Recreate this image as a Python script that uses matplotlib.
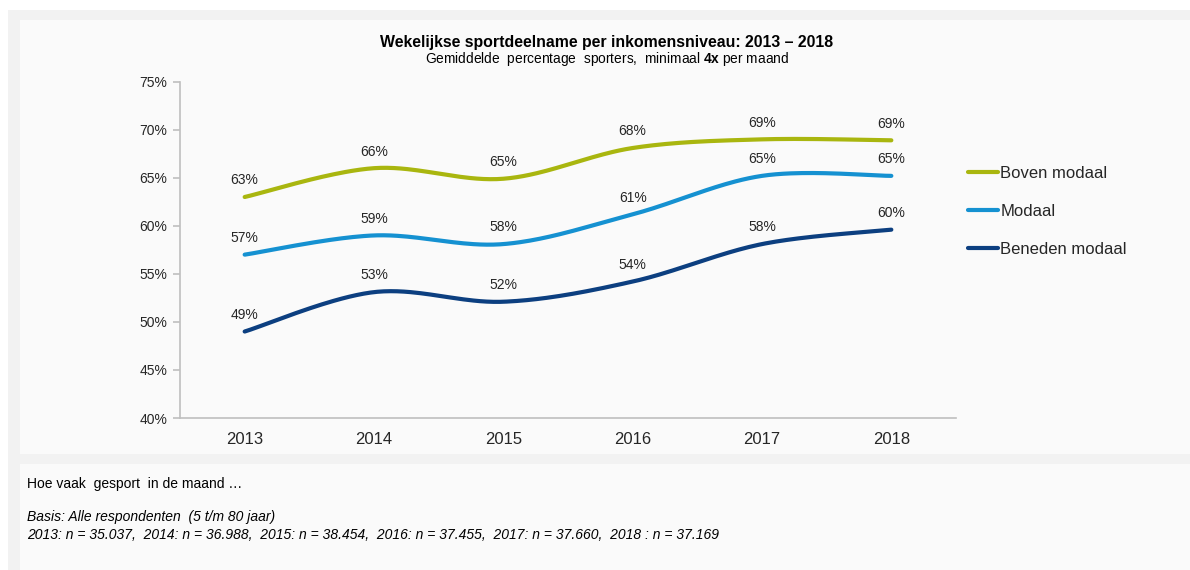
import numpy as np
import matplotlib.pyplot as plt
from matplotlib.patches import Rectangle

plt.rcParams['font.family'] = ['Liberation Sans', 'DejaVu Sans']
plt.rcParams['mathtext.fontset'] = 'custom'
plt.rcParams['mathtext.rm'] = 'Liberation Sans'
plt.rcParams['mathtext.bf'] = 'Liberation Sans:bold'

# Data
jaren = ['2013', '2014', '2015', '2016', '2017', '2018']
boven_modaal = [63.0, 66.0, 64.9, 68.1, 69.0, 68.9]
modaal = [57.0, 59.0, 58.1, 61.2, 65.2, 65.2]
beneden_modaal = [49.0, 53.1, 52.1, 54.2, 58.1, 59.6]

reeksen = ['Boven modaal', 'Modaal', 'Beneden modaal']
kleuren = ['#A9B60F', '#1591D1', '#0C3F80']


def glad(y, n=40):
    # Excel-achtige afgevlakte lijn (Bezier door de punten)
    y = np.asarray(y, dtype=float)
    x = np.arange(len(y), dtype=float)
    px = np.concatenate([[x[0]], x, [x[-1]]])
    py = np.concatenate([[y[0]], y, [y[-1]]])
    xs, ys = [], []
    t = np.linspace(0, 1, n)
    for i in range(len(y) - 1):
        p0 = np.array([px[i + 1], py[i + 1]])
        p3 = np.array([px[i + 2], py[i + 2]])
        c1 = p0 + (np.array([px[i + 2], py[i + 2]]) - np.array([px[i], py[i]])) / 6
        c2 = p3 - (np.array([px[i + 3], py[i + 3]]) - np.array([px[i + 1], py[i + 1]])) / 6
        b = ((1 - t) ** 3)[:, None] * p0 + (3 * (1 - t) ** 2 * t)[:, None] * c1 \
            + (3 * (1 - t) * t ** 2)[:, None] * c2 + (t ** 3)[:, None] * p3
        xs.append(b[:, 0])
        ys.append(b[:, 1])
    return np.concatenate(xs), np.concatenate(ys)


W, H = 1190, 570
fig = plt.figure(figsize=(W / 100, H / 100), dpi=100)
fig.patch.set_facecolor('white')

# Achtergrondvlakken
fig.add_artist(Rectangle((8 / W, 0), (W - 8) / W, (H - 10) / H, transform=fig.transFigure,
                         facecolor='#F2F2F2', edgecolor='none', zorder=-10))
fig.add_artist(Rectangle((20 / W, 1 - 454 / H), (W - 20) / W, 434 / H, transform=fig.transFigure,
                         facecolor='#FAFAFA', edgecolor='none', zorder=-9))
fig.add_artist(Rectangle((20 / W, 0), (W - 20) / W, 106 / H, transform=fig.transFigure,
                         facecolor='#FAFAFA', edgecolor='none', zorder=-9))

ax = fig.add_axes([180 / W, 1 - 418 / H, (956 - 180) / W, (418 - 81.7) / H])
ax.set_facecolor('none')

for naam, waarden, kleur in zip(reeksen, [boven_modaal, modaal, beneden_modaal], kleuren):
    gx, gy = glad(waarden)
    ax.plot(gx, gy, color=kleur, lw=3, solid_capstyle='round', label=naam)
    for i, v in enumerate(waarden):
        ax.annotate(f'{v:.0f}%', (i, v), xytext=(0, 12), textcoords='offset points',
                    ha='center', va='center', fontsize=10, color='#262626')

ax.set_xlim(-0.5, len(jaren) - 0.5)
ax.set_ylim(40, 75)
ax.set_yticks(np.arange(40, 76, 5))
ax.set_yticklabels([f'{v}%' for v in range(40, 76, 5)])
ax.set_xticks(range(len(jaren)))
ax.set_xticklabels(jaren)

for s in ['top', 'right']:
    ax.spines[s].set_visible(False)
for s in ['left', 'bottom']:
    ax.spines[s].set_color('#BFBFBF')
    ax.spines[s].set_linewidth(1.2)
ax.tick_params(axis='y', length=5, color='#BFBFBF', width=1.2, labelsize=10, labelcolor='#262626', pad=4)
ax.tick_params(axis='x', length=0, labelsize=12, labelcolor='#262626', pad=10)

fig.legend(loc='upper left', bbox_to_anchor=(968 / W, 1 - 166 / H), frameon=False,
           fontsize=12, handlelength=1.8, handletextpad=0.15, labelspacing=1.38,
           borderpad=0, borderaxespad=0, labelcolor='#262626')

# Titels
fig.text(607 / W, 1 - 42 / H, 'Wekelijkse sportdeelname per inkomensniveau: 2013 \u2013 2018',
         ha='center', va='center', fontsize=11.4, fontweight='bold', color='black')
fig.text(607 / W, 1 - 59 / H, 'Gemiddelde  percentage  sporters,  minimaal $\\mathbf{4x}$ per maand',
         ha='center', va='center', fontsize=9.9, color='black')

# Toelichting onderaan
fig.text(27 / W, 1 - 484 / H, 'Hoe vaak  gesport  in de maand \u2026', ha='left', va='center',
         fontsize=10, color='black')
fig.text(27 / W, 1 - 517 / H, 'Basis: Alle respondenten  (5 t/m 80 jaar)', ha='left', va='center',
         fontsize=10, style='italic', color='black')
fig.text(27 / W, 1 - 535 / H,
         '2013: n = 35.037,  2014: n = 36.988,  2015: n = 38.454,  2016: n = 37.455,  '
         '2017: n = 37.660,  2018 : n = 37.169',
         ha='left', va='center', fontsize=10, style='italic', color='black')

fig.savefig('out.png', dpi=100)
